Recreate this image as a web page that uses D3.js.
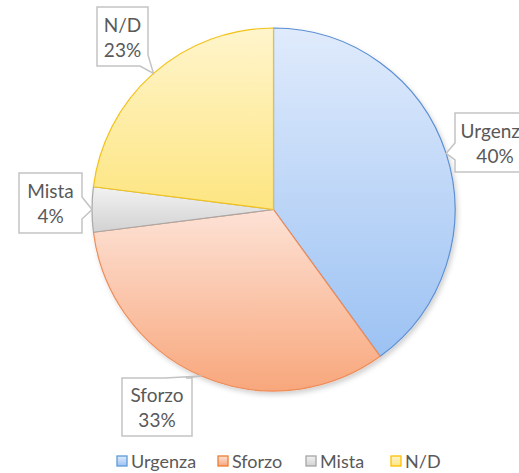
<!DOCTYPE html>
<html><head><meta charset="utf-8">
<script src="https://cdn.jsdelivr.net/npm/d3@7/dist/d3.min.js"></script>
<style>body{margin:0;background:#fff}svg{display:block}</style>
</head><body><svg id="c" width="519" height="473"></svg>
<script>
const categories = ["Urgenza", "Sforzo", "Mista", "N/D"];
const values = [40, 33, 4, 23];
const labelText = ["40%", "33%", "4%", "23%"];

const W = 519, H = 473, cx = 273.5, cy = 209.5, R = 181.5;
const svg = d3.select("#c");
const defs = svg.append("defs");
const grads = [
  {top: "#e0ebfc", bot: "#9cc2f3", stroke: "#5b8fd3", lg: "#5b9bd5"},
  {top: "#fde2d6", bot: "#f8a77c", stroke: "#ef8c58", lg: "#ed7d31"},
  {top: "#f2f2f2", bot: "#d2d2d2", stroke: "#a8a8a8", lg: "#a5a5a5"},
  {top: "#fff5cc", bot: "#fde581", stroke: "#f2c21a", lg: "#ffc000"}
];
grads.forEach((g, i) => {
  const lg = defs.append("linearGradient").attr("id", "g" + i).attr("x1", 0).attr("y1", 0).attr("x2", 0).attr("y2", 1);
  lg.append("stop").attr("offset", 0).attr("stop-color", g.top);
  lg.append("stop").attr("offset", 1).attr("stop-color", g.bot);
});
const f = defs.append("filter").attr("id", "sh").attr("x", "-20%").attr("y", "-20%").attr("width", "140%").attr("height", "140%");
f.append("feDropShadow").attr("dx", 2).attr("dy", 3).attr("stdDeviation", 2.5).attr("flood-color", "#000").attr("flood-opacity", 0.18);

const pie = d3.pie().sort(null).value(d => d);
const arcs = pie(values);
const arc = d3.arc().innerRadius(0).outerRadius(R);
const g = svg.append("g").attr("transform", `translate(${cx},${cy})`);
g.append("g").attr("filter", "url(#sh)").selectAll("path").data(arcs).join("path")
  .attr("d", arc).attr("fill", (d, i) => `url(#g${i})`)
  .attr("stroke", (d, i) => grads[i].stroke).attr("stroke-width", 1.2).attr("stroke-linejoin", "round");

// callouts
const boxes = [
  {x0: 455, y0: 113, x1: 535, y1: 172, side: "left", b: [143, 160]},
  {x0: 122, y0: 378, x1: 192, y1: 436, side: "top", b: [165, 186]},
  {x0: 19, y0: 173, x1: 82, y1: 233, side: "right", b: [197, 219]},
  {x0: 97, y0: 7, x1: 148, y1: 66, side: "corner", b: [55, 140]}
];
const lab = svg.append("g");
arcs.forEach((a, i) => {
  const m = (a.startAngle + a.endAngle) / 2;
  const tx = cx + R * Math.sin(m), ty = cy - R * Math.cos(m);
  const b = boxes[i];
  let p;
  if (b.side === "left") p = `M${b.x0},${b.y0}L${b.x1},${b.y0}L${b.x1},${b.y1}L${b.x0},${b.y1}L${b.x0},${b.b[1]}L${tx},${ty}L${b.x0},${b.b[0]}Z`;
  else if (b.side === "top") p = `M${b.x0},${b.y0}L${b.b[0]},${b.y0}L${tx},${ty}L${b.b[1]},${b.y0}L${b.x1},${b.y0}L${b.x1},${b.y1}L${b.x0},${b.y1}Z`;
  else if (b.side === "right") p = `M${b.x0},${b.y0}L${b.x1},${b.y0}L${b.x1},${b.b[0]}L${tx},${ty}L${b.x1},${b.b[1]}L${b.x1},${b.y1}L${b.x0},${b.y1}Z`;
  else p = `M${b.x0},${b.y0}L${b.x1},${b.y0}L${b.x1},${b.b[0]}L${tx},${ty}L${b.b[1]},${b.y1}L${b.x0},${b.y1}Z`;
  lab.append("path").attr("d", p).attr("fill", "#fff").attr("stroke", "#c3c3c3").attr("stroke-width", 1.5);
  const mx = (b.x0 + b.x1) / 2, my = (b.y0 + b.y1) / 2;
  const t = lab.append("text").attr("text-anchor", "middle").attr("fill", "#595959")
    .style("font-family", "Lato, 'Open Sans', sans-serif").style("font-size", "19px");
  t.append("tspan").attr("x", mx).attr("y", my - 5).text(categories[i]);
  t.append("tspan").attr("x", mx).attr("y", my + 20).text(labelText[i]);
});

// legend
const lgX = [117, 218, 306, 391];
const leg = svg.append("g");
categories.forEach((c, i) => {
  leg.append("rect").attr("x", lgX[i]).attr("y", 456).attr("width", 10).attr("height", 10)
    .attr("fill", `url(#g${i})`).attr("stroke", grads[i].lg).attr("stroke-width", 1.3);
  leg.append("text").attr("x", lgX[i] + 14).attr("y", 468).attr("fill", "#595959")
    .style("font-family", "Lato, 'Open Sans', sans-serif").style("font-size", "18px").text(c);
});
</script></body></html>
